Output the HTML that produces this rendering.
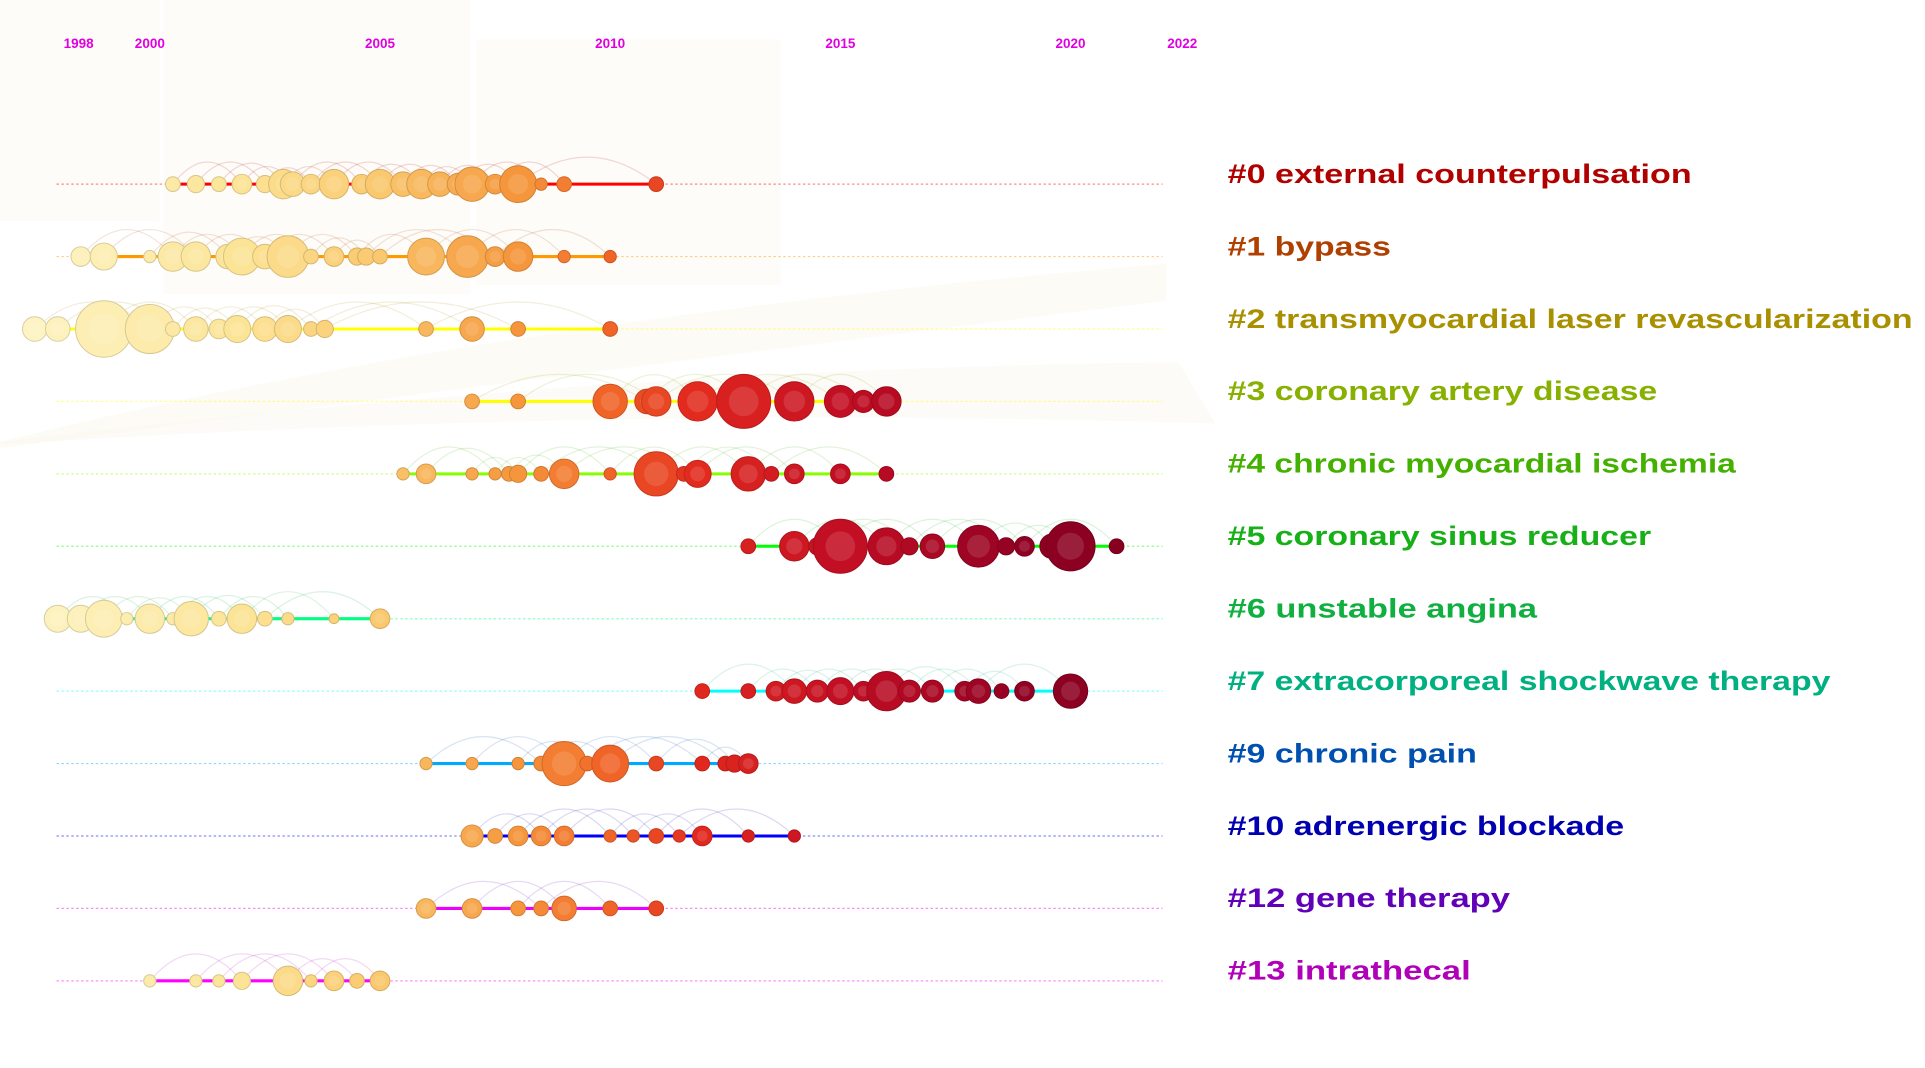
<!DOCTYPE html>
<html><head><meta charset="utf-8"><style>
html,body{margin:0;padding:0;background:#fff;}
svg{display:block;}
</style></head><body>
<svg id="chart" width="1925" height="1068" viewBox="0 0 1568 870" xmlns="http://www.w3.org/2000/svg">
<g>
<rect x="0" y="0" width="130" height="180" fill="#fdfcf8"/>
<rect x="133" y="0" width="250" height="240" fill="#fdfcf8"/>
<rect x="388" y="32" width="248" height="200" fill="#fdfcf8"/>
<path d="M0 360 Q400 260 950 215 L950 245 Q500 300 0 365 Z" fill="#fbf8f0" opacity="0.6"/>
<path d="M0 360 Q500 300 960 295 L990 345 Q500 330 0 362 Z" fill="#fbf8f0" opacity="0.5"/>
</g>
<g id="axis"></g>
<g id="rows"></g>
<g id="labels"></g>
</svg>
<script>
const yearTicks = [1998, 2000, 2005, 2010, 2015, 2020, 2022];
const clusterNames = ["#0 external counterpulsation","#1 bypass","#2 transmyocardial laser revascularization","#3 coronary artery disease","#4 chronic myocardial ischemia","#5 coronary sinus reducer","#6 unstable angina","#7 extracorporeal shockwave therapy","#9 chronic pain","#10 adrenergic blockade","#12 gene therapy","#13 intrathecal"];
const labelColors = ["#b00000","#b04000","#a89000","#88b000","#44b000","#18b018","#10b040","#00b080","#0050b0","#0000b0","#6000b8","#b000b8"];
const lineColors = ["#ff0000","#ff9900","#ffff00","#ffff00","#88ff00","#00ff00","#00ff80","#00ffff","#00aaff","#0000ff","#ee00ff","#ff00ff"];
const labelEnds = [1378,1133,1558,1350,1414,1345,1252,1491,1203,1323,1230,1198];
const years0 = [2000.5,2001,2001.5,2002,2002.5,2002.9,2003.1,2003.5,2004,2004.6,2005,2005.5,2005.9,2006.3,2006.7,2007,2007.5,2008,2008.5,2009,2011];
const sizes0 = [6,7,6,8,7,12,10,8,12,8,12,10,12,10,9,14,8,15,5,6,6];
const years1 = [1998.5,1999,2000,2000.5,2001,2001.7,2002,2002.5,2003,2003.5,2004,2004.5,2004.7,2005,2006,2006.9,2007.5,2008,2009,2010];
const sizes1 = [8,11,5,12,12,10,15,10,17,6,8,7,7,6,15,17,8,12,5,5];
const years2 = [1997.5,1998,1999,2000,2000.5,2001,2001.5,2001.9,2002.5,2003,2003.5,2003.8,2006,2007,2008,2010];
const sizes2 = [10,10,23,20,6,10,8,11,10,11,6,7,6,10,6,6];
const years3 = [2007,2008,2010,2010.8,2011,2011.9,2012.9,2014,2015,2015.5,2016];
const sizes3 = [6,6,14,10,12,16,22,16,13,9,12];
const years4 = [2005.5,2006,2007,2007.5,2007.8,2008,2008.5,2009,2010,2011,2011.6,2011.9,2013,2013.5,2014,2015,2016];
const sizes4 = [5,8,5,5,6,7,6,12,5,18,6,11,14,6,8,8,6];
const years5 = [2013,2014,2014.5,2015,2016,2016.5,2017,2018,2018.6,2019,2019.6,2020,2021];
const sizes5 = [6,12,7,22,15,7,10,17,7,8,10,20,6];
const years6 = [1998,1998.5,1999,1999.5,2000,2000.5,2000.9,2001.5,2002,2002.5,2003,2004,2005];
const sizes6 = [11,11,15,5,12,5,14,6,12,6,5,4,8];
const years7 = [2012,2013,2013.6,2014,2014.5,2015,2015.5,2016,2016.5,2017,2017.7,2018,2018.5,2019,2020];
const sizes7 = [6,6,8,10,9,11,8,16,9,9,8,10,6,8,14];
const years9 = [2006,2007,2008,2008.5,2009,2009.5,2010,2011,2012,2012.5,2012.7,2013];
const sizes9 = [5,5,5,6,18,6,15,6,6,6,7,8];
const years10 = [2007,2007.5,2008,2008.5,2009,2010,2010.5,2011,2011.5,2012,2013,2014];
const sizes10 = [9,6,8,8,8,5,5,6,5,8,5,5];
const years12 = [2006,2007,2008,2008.5,2009,2010,2011];
const sizes12 = [8,8,6,6,10,6,6];
const years13 = [2000,2001,2001.5,2002,2003,2003.5,2004,2004.5,2005];
const sizes13 = [5,5,5,7,12,5,8,6,8];
const clusterYears = [years0,years1,years2,years3,years4,years5,years6,years7,years9,years10,years12,years13];
const clusterSizes = [sizes0,sizes1,sizes2,sizes3,sizes4,sizes5,sizes6,sizes7,sizes9,sizes10,sizes12,sizes13];

const NS = "http://www.w3.org/2000/svg";
function xScale(y){ return 122 + (y - 2000) * 37.5; }
function rowY(i){ return 150 + i * 59; }
function mk(tag, attrs, parent){ const e = document.createElementNS(NS, tag); for (const k in attrs) e.setAttribute(k, attrs[k]); parent.appendChild(e); return e; }
const stops = [[1997,[253,245,200]],[2002,[252,228,150]],[2005,[250,200,110]],[2008,[245,150,60]],[2010,[240,100,40]],[2012,[225,40,30]],[2015,[195,15,35]],[2019,[145,0,35]],[2022,[130,0,30]]];
function nodeColor(y){
  for (let i=0;i<stops.length-1;i++){ const a=stops[i],b=stops[i+1];
    if (y<=b[0]){ const t=Math.max(0,(y-a[0])/(b[0]-a[0])); const c=a[1].map((v,k)=>Math.round(v+(b[1][k]-v)*t)); return c; } }
  return stops[stops.length-1][1];
}
const axis = document.getElementById('axis');
yearTicks.forEach((yr,i)=>{
  let xx = xScale(yr);
  if (i===0) xx = 64;
  if (i===yearTicks.length-1) xx = 963;
  const t = mk('text',{x:xx,y:39,'text-anchor':'middle','font-family':'Liberation Sans, sans-serif','font-weight':'bold','font-size':11,fill:'#e000e0'},axis);
  t.textContent = yr;
  
  
});
const rows = document.getElementById('rows');
const labels = document.getElementById('labels');
clusterYears.forEach((yrs,i)=>{
  const g = mk('g',{},rows);
  
  
  const y = rowY(i); const sz = clusterSizes[i];
  const dl = mk('line',{x1:46,x2:947,y1:y,y2:y,stroke:lineColors[i],'stroke-width':1,'stroke-dasharray':'2 2',opacity:0.45},g);
  
  
  const sl = mk('line',{x1:xScale(yrs[0]),x2:xScale(yrs[yrs.length-1]),y1:y,y2:y,stroke:lineColors[i],'stroke-width':2.5},g);
  
  
  for (let a=0;a<yrs.length;a++){
    for (let s=2;s<=5;s+=1){ const b=a+s; if (b>=yrs.length) break; if ((a*3+s)%3) continue;
      const x1=xScale(yrs[a]), x2=xScale(yrs[b]); const h=Math.min(22,(x2-x1)*0.25+4);
      const p = mk('path',{d:`M${x1} ${y} Q${(x1+x2)/2} ${y-h*2} ${x2} ${y}`,fill:'none',stroke:labelColors[i],'stroke-width':1,opacity:0.15},g);
      
      
    }
  }
  yrs.forEach((yr,k)=>{
    const c = nodeColor(yr); const r = sz[k];
    const col = `rgb(${c[0]},${c[1]},${c[2]})`;
    const st = `rgb(${Math.round(c[0]*0.85)},${Math.round(c[1]*0.85)},${Math.round(c[2]*0.85)})`;
    const n = mk('circle',{cx:xScale(yr),cy:y,r:r,fill:col,stroke:st,'stroke-width':0.8},g);
    
    
    if (r>=8){
      const inner = mk('circle',{cx:xScale(yr),cy:y,r:r*0.55,fill:'#fff',opacity:0.12},g);
      
      
    }
  });
  const t = mk('text',{x:1000,y:y-1,'font-family':'Liberation Sans, sans-serif','font-weight':'bold','font-size':22,fill:labelColors[i],textLength:labelEnds[i]-1000,lengthAdjust:'spacingAndGlyphs'},labels);
  t.textContent = clusterNames[i];
  
  
});
</script>
</body></html>
